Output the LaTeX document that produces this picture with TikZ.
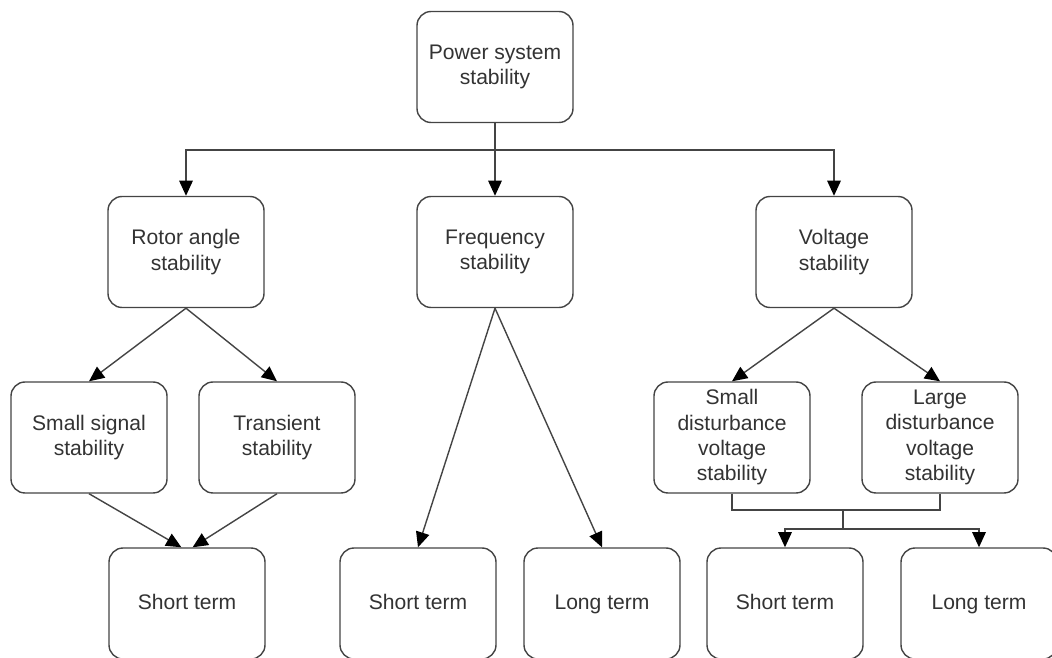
\documentclass[tikz,border=0pt]{standalone}
\usepackage{fontspec}
\setmainfont{Liberation Sans}
\usetikzlibrary{arrows.meta, positioning, calc}
\definecolor{linegray}{HTML}{444444}
\definecolor{textgray}{HTML}{333333}

\begin{document}
\begin{tikzpicture}[
    box/.style={rounded corners=10pt, draw=linegray, line width=1pt, fill=white, minimum width=3.9cm, minimum height=2.775cm, align=center, text=textgray, font=\fontsize{15}{18}\selectfont},
    termbox/.style={box, text height=11pt, text depth=3pt},
    arrow/.style={-{Triangle[length=0.38cm, width=0.34cm, color=black]}, draw=linegray, line width=1pt},
    link/.style={draw=linegray, line width=1pt},
]
\useasboundingbox (0,0) rectangle (26.3,16.425);

% Top level
\node[box] (pss) at (12.375, 14.75) {Power system\\stability};

% Second level
\node[box] (rotor) at (4.65, 10.125) {Rotor angle\\stability};
\node[box] (freq) at (12.375, 10.125) {Frequency\\stability};
\node[box] (volt) at (20.85, 10.125) {Voltage\\stability};

% Third level
\node[box] (smallsig) at (2.225, 5.4875) {Small signal\\stability};
\node[box] (trans) at (6.925, 5.4875) {Transient\\stability};
\node[box] (smalldist) at (18.3, 5.4875) {Small\\disturbance\\voltage\\stability};
\node[box] (largedist) at (23.5, 5.4875) {Large\\disturbance\\voltage\\stability};

% Bottom level
\node[termbox] (rshort) at (4.675, 1.3375) {Short term};
\node[termbox] (fshort) at (10.45, 1.3375) {Short term};
\node[termbox] (flong) at (15.05, 1.3375) {Long term};
\node[termbox] (vshort) at (19.625, 1.3375) {Short term};
\node[termbox] (vlong) at (24.475, 1.3375) {Long term};

% Junction points
\coordinate (split) at (12.375, 12.675);
\coordinate (vjoin) at (21.075, 3.675);
\coordinate (vsplit) at (21.075, 3.2);

% Arrows
\draw[arrow] (pss) -- (freq);
\draw[arrow] (split) -| (rotor);
\draw[arrow] (split) -| (volt);
\draw[arrow] (rotor.south) -- (smallsig.north);
\draw[arrow] (rotor.south) -- (trans.north);
\draw[arrow] (volt.south) -- (smalldist.north);
\draw[arrow] (volt.south) -- (largedist.north);
\draw[arrow] (smallsig.south) -- ([xshift=-4pt]rshort.north);
\draw[arrow] (trans.south) -- ([xshift=4pt]rshort.north);
\draw[arrow] (freq.south) -- (fshort.north);
\draw[arrow] (freq.south) -- (flong.north);
\draw[link] (smalldist.south) |- (vjoin) -| (largedist.south);
\draw[link] (vjoin) -- (vsplit);
\draw[arrow] (vsplit) -| (vshort);
\draw[arrow] (vsplit) -| (vlong);

\end{tikzpicture}
\end{document}
